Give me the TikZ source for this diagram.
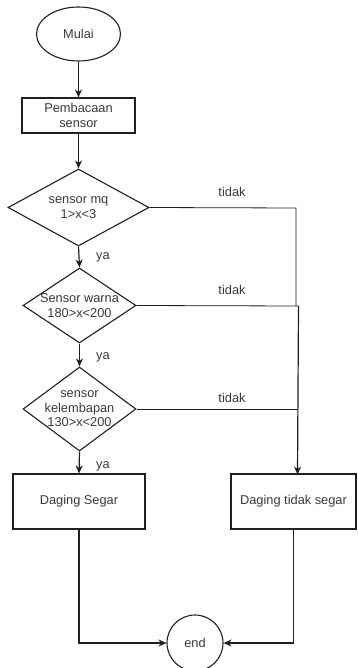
\documentclass[tikz,border=0pt]{standalone}
\usepackage{fontspec}
\setmainfont{Liberation Sans}
\usetikzlibrary{shapes.geometric,arrows.meta}
\definecolor{txt}{HTML}{3A3A3A}
\definecolor{ln}{HTML}{202020}
\begin{document}
\begin{tikzpicture}[x=1pt,y=-1pt,
  every node/.style={font=\fontsize{12.8}{14.5}\selectfont, text=txt},
  base/.style={draw=ln, line width=1.1pt, inner sep=0pt},
  startend/.style={base, ellipse, minimum width=84pt, minimum height=54pt},
  procbox/.style={base, rectangle, align=center},
  decision/.style={base, diamond, inner sep=0pt},
  circ/.style={base, circle, minimum size=56pt},
  flow/.style={draw=ln, line width=1.2pt, -{Stealth[length=8pt,width=7pt,inset=2.5pt]}},
  thin/.style={draw=ln, line width=0.8pt},
  lab/.style={inner sep=0pt}
]
\useasboundingbox (0,0) rectangle (357,668);
\fill[white] (0,0) rectangle (357,668);

\node[startend] (start) at (78.5,34) {Mulai};
\node[procbox, minimum width=113pt, minimum height=35pt] (read) at (78.5,115.5) {Pembacaan\\sensor};
\node[decision, minimum width=141pt, minimum height=77pt,
      label={[align=center,inner sep=0pt]center:sensor mq\\1>x<3}] (d1) at (78.5,207.5) {};
\node[decision, minimum width=113pt, minimum height=75pt,
      label={[align=center,inner sep=0pt]center:Sensor warna\\180>x<200}] (d2) at (79.5,305.5) {};
\node[decision, minimum width=113pt, minimum height=84pt,
      label={[align=center,inner sep=0pt]center:sensor\\kelembapan\\130>x<200}] (d3) at (79.5,409) {};
\node[procbox, minimum width=132pt, minimum height=55pt] (fresh) at (79,501.5) {Daging Segar};
\node[procbox, minimum width=125pt, minimum height=55pt] (notfresh) at (293.5,501.5) {Daging tidak segar};
\node[circ] (end) at (195,643) {end};

\coordinate (c1) at (296,208);
\coordinate (c1b) at (296,306);
\coordinate (c2) at (298.5,306);
\coordinate (c3) at (298,409);
\coordinate (nt) at (297.5,474.5);

\draw[flow] (start.south) -- (read.north);
\draw[flow] (read.south) -- (d1.north);
\draw[flow] (d1.south) -- (d2.north);
\draw[flow] (d2.south) -- (d3.north);
\draw[flow] (d3.south) -- (fresh.north);

\draw[thin] (d1.east) -- (c1) -- (c1b);
\draw[thin] (d2.east) -- (c2);
\draw[thin] (d3.east) -- (c3);
\draw[flow] (c2) -- (nt);

\draw[flow] (fresh.south) |- (end.west);
\draw[flow] (notfresh.south) |- (end.east);

\node[lab] (t1) at (232,192) {tidak};
\node[lab] (t2) at (232,290) {tidak};
\node[lab] (t3) at (232,398) {tidak};
\node[lab] (y1) at (103,257) {ya};
\node[lab] (y2) at (103,357) {ya};
\node[lab] (y3) at (103,466) {ya};
\end{tikzpicture}
\end{document}
